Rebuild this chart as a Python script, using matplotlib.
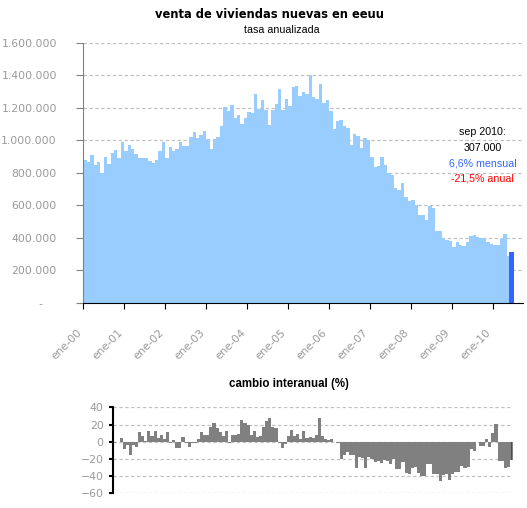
import matplotlib
matplotlib.use("Agg")
from matplotlib import pyplot as plt
from matplotlib.transforms import ScaledTranslation
import numpy as np

# ventas mensuales (miles, tasa anualizada), ene-2000 .. may-2010
ventas = [879, 866, 909, 848, 866, 799, 897, 854, 922, 940, 891, 990,
          935, 971, 946, 916, 891, 891, 891, 873, 860, 879, 934, 990,
          891, 959, 934, 946, 990, 965, 965, 1020, 1051, 1014, 1033, 1057,
          1008, 946, 1008, 1020, 1088, 1203, 1180, 1217, 1137, 1156, 1100, 1137,
          1174, 1168, 1285, 1193, 1248, 1187, 1094, 1187, 1224, 1316, 1187, 1254,
          1211, 1330, 1336, 1275, 1297, 1287, 1400, 1267, 1256, 1347, 1226, 1248,
          1182, 1066, 1121, 1127, 1090, 1078, 968, 1041, 1023, 949, 1011, 1004,
          894, 833, 839, 894, 845, 796, 783, 704, 692, 735, 649, 628,
          630, 601, 540, 540, 509, 595, 583, 442, 442, 399, 389, 380,
          344, 374, 356, 350, 374, 410, 415, 407, 398, 398, 372, 363,
          357, 357, 392, 423, 287]
ultimo = 313  # sep 2010

# cambio interanual (%), ene-2000 .. sep-2010
interanual = [-1, 0, 4, -9, -4, -15, -4, -6, 11, 7, 1, 12,
              7, 12, 4, 8, 3, 11, -1, 2, -7, -7, 5, -1,
              -6, -2, -2, 3, 11, 8, 8, 17, 22, 16, 11, 7,
              13, -1, 8, 8, 9, 25, 22, 19, 8, 13, 6, 7,
              17, 24, 27, 17, 16, -1, -7, -3, 7, 14, 7, 9,
              3, 13, 4, 6, 4, 8, 28, 7, 3, 2, 3, 0,
              -2, -20, -16, -12, -16, -16, -31, -18, -19, -30, -18, -20,
              -24, -22, -25, -21, -22, -26, -20, -32, -32, -24, -36, -38,
              -30, -29, -36, -40, -40, -26, -26, -38, -37, -46, -39, -38,
              -45, -37, -35, -35, -28, -31, -29, -8, -11, 0, -5, -5,
              3, -6, 10, 21, -23, -23, -30, -29, -21.5]

anios = ["ene-%02d" % a for a in range(0, 11)]
y_ticks = [0, 200, 400, 600, 800, 1000, 1200, 1400, 1600]
y_labels = ["-", "200.000", "400.000", "600.000", "800.000", "1.000.000",
            "1.200.000", "1.400.000", "1.600.000"]
y2_ticks = [-60, -40, -20, 0, 20, 40]

gris = "#999999"
grid_kw = dict(color="#c0c0c0", linestyle=(0, (2.7, 2)), linewidth=0.9)

fig = plt.figure(figsize=(5.27, 5.08), dpi=100)
fig.patch.set_facecolor("white")

# ---- grafico principal
ax1 = fig.add_axes([0.158, 0.404, 0.834, 0.512])
x = np.arange(len(ventas))
ax1.bar(x, ventas, width=1.0, align="edge", color="#99ccff", linewidth=0)
ax1.bar(len(ventas) - 0.4, ultimo, width=1.4, align="edge", color="#3366ff", linewidth=0)
ax1.set_xlim(0, 128.7)
ax1.set_ylim(0, 1600)
ax1.set_axisbelow(True)
ax1.yaxis.grid(True, **grid_kw)
ax1.set_yticks(y_ticks)
ax1.set_yticklabels(y_labels)
ax1.set_xticks(np.arange(0, 121, 12))
ax1.set_xticklabels(anios, rotation=45, ha="right", va="top", rotation_mode="anchor")
for s in ["top", "right"]:
    ax1.spines[s].set_visible(False)
ax1.spines["left"].set_color("#808080")
ax1.spines["bottom"].set_color("black")
ax1.tick_params(axis="y", colors="#808080", labelcolor=gris, length=5, pad=14,
                labelsize=7.8)
ax1.tick_params(axis="x", colors="black", labelcolor=gris, length=4, pad=14,
                labelsize=7.8)

# desplazar etiquetas como en el original
for lab in ax1.get_xticklabels():
    lab.set_transform(lab.get_transform() + ScaledTranslation(-0.07, 0, fig.dpi_scale_trans))
cero = ax1.get_yticklabels()[0]
cero.set_transform(cero.get_transform() + ScaledTranslation(-0.15, 0, fig.dpi_scale_trans))

fig.text(0.511, 0.972, "venta de viviendas nuevas en eeuu", ha="center", va="center",
         fontsize=8.3, fontweight="bold")
fig.text(0.534, 0.941, "tasa anualizada", ha="center", va="center",
         fontsize=7.7, family="Liberation Sans")

ann_x = 0.9156
fig.text(ann_x, 0.7396, "sep 2010:", ha="center", va="center", fontsize=7.7,
         family="Liberation Sans")
fig.text(ann_x, 0.7081, "307.000", ha="center", va="center", fontsize=7.7,
         family="Liberation Sans")
fig.text(ann_x, 0.6772, "6,6% mensual", ha="center", va="center", fontsize=7.7,
         family="Liberation Sans", color="#3366ff")
fig.text(ann_x, 0.6490, "-21,5% anual", ha="center", va="center", fontsize=7.7,
         family="Liberation Sans", color="#ff0000")

# ---- cambio interanual
ax2 = fig.add_axes([0.215, 0.0289, 0.7585, 0.1693])
x2 = np.arange(len(interanual))
ax2.bar(x2, interanual, width=1.0, align="edge", color="#808080", linewidth=0)
ax2.bar(len(interanual) - 0.5, interanual[-1], width=0.35, color="#ff0000", linewidth=0)
ax2.set_xlim(0, 129)
ax2.set_ylim(-60, 40)
ax2.set_axisbelow(True)
ax2.yaxis.grid(True, **grid_kw)
ax2.set_yticks(y2_ticks)
ax2.set_xticks([])
for s in ["top", "right", "bottom"]:
    ax2.spines[s].set_visible(False)
ax2.spines["left"].set_color("black")
ax2.spines["left"].set_linewidth(1.5)
ax2.tick_params(axis="y", colors="black", labelcolor=gris, length=3, width=1.5,
                pad=4, labelsize=7.8)

fig.text(0.5484, 0.2435, "cambio interanual (%)", ha="center", va="center",
         fontsize=8.3, fontweight="bold", family="Liberation Sans")

fig.savefig("out.png", dpi=100, facecolor="white")
